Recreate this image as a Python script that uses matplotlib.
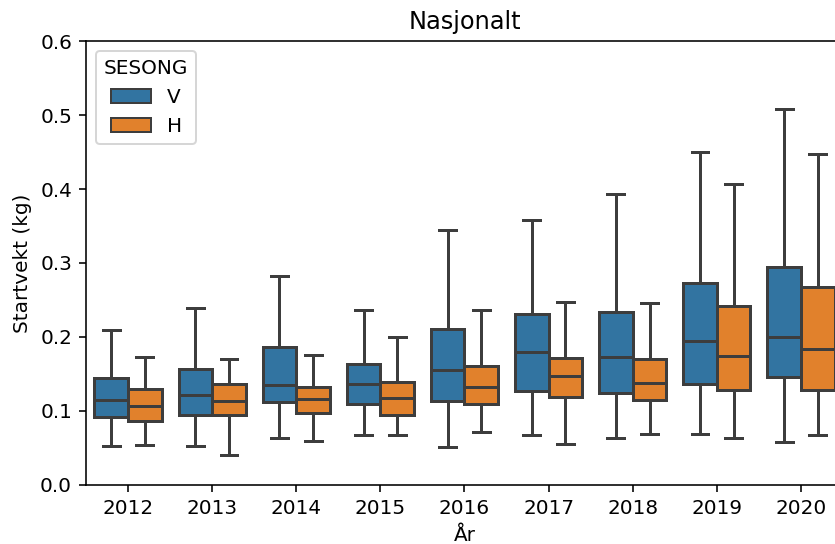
import numpy as np
import matplotlib
matplotlib.use("Agg")
import matplotlib.pyplot as plt
from matplotlib.patches import Patch

years = ["2012", "2013", "2014", "2015", "2016", "2017", "2018", "2019", "2020"]
seasons = ["V", "H"]

# box statistics (kg)
v_low = [0.053, 0.053, 0.063, 0.068, 0.052, 0.068, 0.063, 0.069, 0.058]
v_q1 = [0.092, 0.095, 0.112, 0.110, 0.113, 0.127, 0.125, 0.137, 0.146]
v_med = [0.115, 0.122, 0.135, 0.136, 0.156, 0.180, 0.173, 0.195, 0.200]
v_q3 = [0.144, 0.157, 0.186, 0.164, 0.211, 0.231, 0.234, 0.273, 0.295]
v_high = [0.209, 0.239, 0.282, 0.237, 0.345, 0.358, 0.393, 0.450, 0.508]

h_low = [0.054, 0.040, 0.060, 0.067, 0.072, 0.055, 0.069, 0.064, 0.068]
h_q1 = [0.086, 0.095, 0.097, 0.095, 0.109, 0.119, 0.115, 0.128, 0.129]
h_med = [0.107, 0.113, 0.116, 0.118, 0.132, 0.147, 0.138, 0.175, 0.184]
h_q3 = [0.130, 0.137, 0.132, 0.139, 0.161, 0.172, 0.170, 0.242, 0.267]
h_high = [0.173, 0.170, 0.176, 0.200, 0.237, 0.247, 0.246, 0.407, 0.447]

colors = ["#3274a1", "#e1812c"]
edge = "#3d3d3d"

dpi = 144
fig = plt.figure(figsize=(835 / dpi, 544 / dpi), dpi=dpi)
ax = fig.add_axes([86 / 835, 59 / 544, 757 / 835, 444 / 544])


def make_stats(lo, q1, med, q3, hi):
    out = []
    for i in range(len(lo)):
        out.append(dict(whislo=lo[i], q1=q1[i], med=med[i], q3=q3[i],
                        whishi=hi[i], fliers=[]))
    return out


groups = [make_stats(v_low, v_q1, v_med, v_q3, v_high),
          make_stats(h_low, h_q1, h_med, h_q3, h_high)]
offsets = [-0.2, 0.2]
x = np.arange(len(years))

for k in range(2):
    ax.bxp(groups[k], positions=x + offsets[k], widths=0.4,
           patch_artist=True, showfliers=False,
           boxprops=dict(facecolor=colors[k], edgecolor=edge, linewidth=1.5),
           medianprops=dict(color=edge, linewidth=1.5),
           whiskerprops=dict(color=edge, linewidth=1.5),
           capprops=dict(color=edge, linewidth=1.5))

ax.set_xticks(x)
ax.set_xticklabels(years)
ax.set_xlim(-0.5, len(years) - 0.5)
ax.set_ylim(0, 0.6)
ax.set_yticks([0.0, 0.1, 0.2, 0.3, 0.4, 0.5, 0.6])
ax.set_xlabel("År")
ax.set_ylabel("Startvekt (kg)")
ax.set_title("Nasjonalt")

handles = [Patch(facecolor=colors[k], edgecolor=edge, label=seasons[k])
           for k in range(2)]
ax.legend(handles=handles, title="SESONG", loc="upper left")

fig.savefig("out.png", dpi=dpi)
